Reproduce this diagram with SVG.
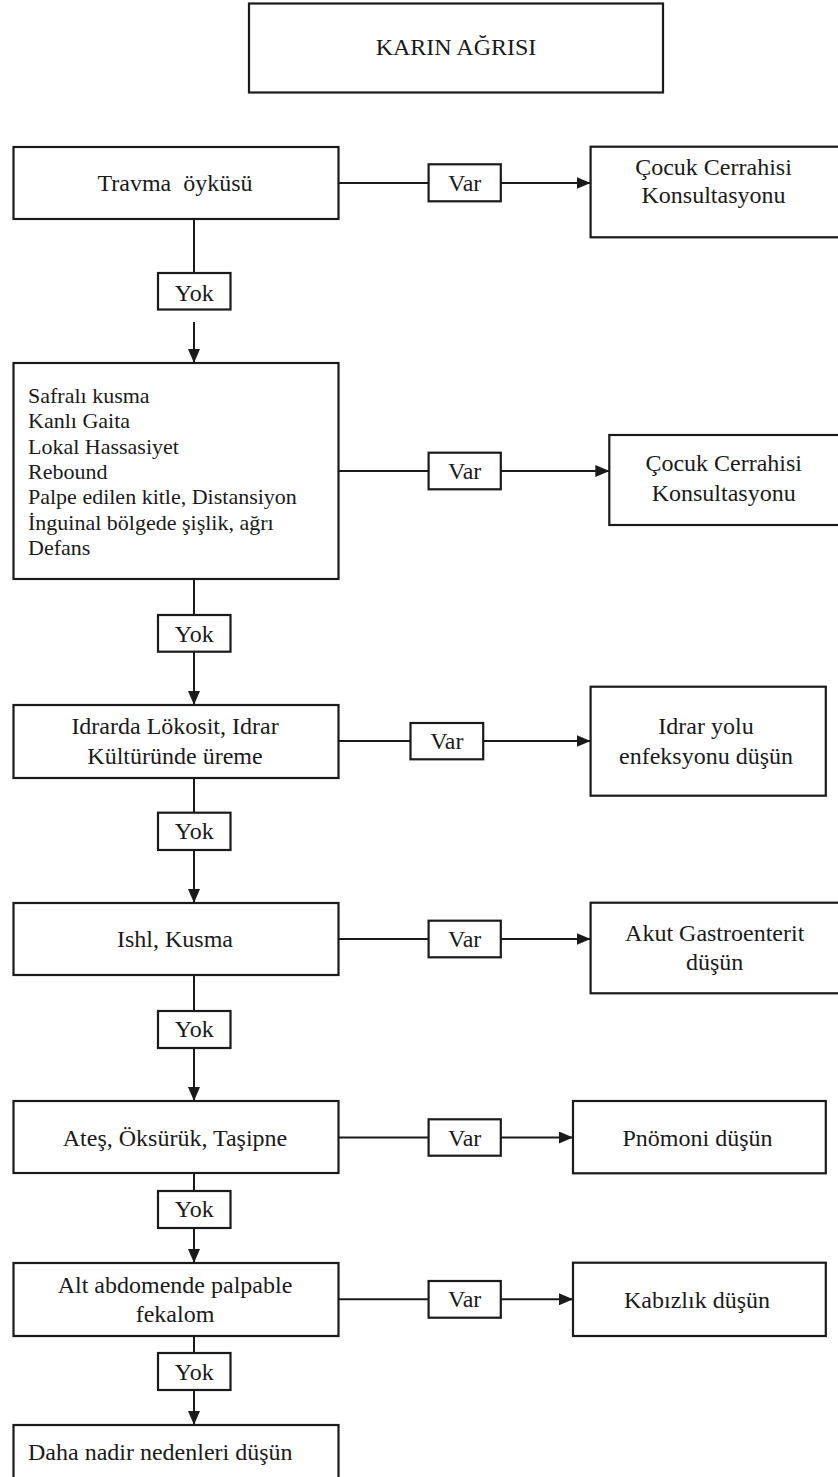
<svg xmlns="http://www.w3.org/2000/svg" width="838" height="1477" viewBox="0 0 838 1477" font-family="'Liberation Serif', 'Times New Roman', Times, 'DejaVu Serif', serif">
<style>
.box{fill:#fff;stroke:#1a1a1a;stroke-width:2.2}
.t{font-family:'Liberation Serif','Times New Roman',Times,'DejaVu Serif',serif;font-size:24px;fill:#1a1a1a;text-anchor:middle;white-space:pre}
.l{font-family:'Liberation Serif','Times New Roman',Times,'DejaVu Serif',serif;font-size:22px;fill:#1a1a1a;white-space:pre}
.c{stroke:#1a1a1a;stroke-width:2;fill:none}
</style>
<defs>
<marker id="ah" markerUnits="userSpaceOnUse" markerWidth="14" markerHeight="12" refX="14" refY="6" orient="auto">
<path d="M0,0 L14,6 L0,12 Z" fill="#1a1a1a"/>
</marker>
</defs>
<rect width="838" height="1477" fill="#fff"/>
<g id="connectors">
<line class="c" x1="338.5" y1="183" x2="428.6" y2="183"/>
<line class="c" x1="500.8" y1="183" x2="590.6" y2="183" marker-end="url(#ah)"/>
<line class="c" x1="194" y1="219" x2="194" y2="273"/>
<line class="c" x1="194" y1="322" x2="194" y2="363" marker-end="url(#ah)"/>
<line class="c" x1="338.5" y1="471" x2="428.6" y2="471"/>
<line class="c" x1="500.8" y1="471" x2="609.3" y2="471" marker-end="url(#ah)"/>
<line class="c" x1="194" y1="579" x2="194" y2="615"/>
<line class="c" x1="194" y1="651.7" x2="194" y2="705" marker-end="url(#ah)"/>
<line class="c" x1="338.5" y1="741" x2="410.5" y2="741"/>
<line class="c" x1="483.2" y1="741" x2="590.6" y2="741" marker-end="url(#ah)"/>
<line class="c" x1="194" y1="778" x2="194" y2="812.7"/>
<line class="c" x1="194" y1="850" x2="194" y2="903" marker-end="url(#ah)"/>
<line class="c" x1="338.5" y1="939" x2="428.6" y2="939"/>
<line class="c" x1="500.8" y1="939" x2="590.6" y2="939" marker-end="url(#ah)"/>
<line class="c" x1="194" y1="975" x2="194" y2="1011"/>
<line class="c" x1="194" y1="1048" x2="194" y2="1101" marker-end="url(#ah)"/>
<line class="c" x1="338.5" y1="1137.5" x2="428.6" y2="1137.5"/>
<line class="c" x1="500.8" y1="1137.5" x2="573" y2="1137.5" marker-end="url(#ah)"/>
<line class="c" x1="194" y1="1173" x2="194" y2="1191"/>
<line class="c" x1="194" y1="1228" x2="194" y2="1263" marker-end="url(#ah)"/>
<line class="c" x1="338.5" y1="1299.3" x2="428.6" y2="1299.3"/>
<line class="c" x1="500.8" y1="1299.3" x2="573" y2="1299.3" marker-end="url(#ah)"/>
<line class="c" x1="194" y1="1336" x2="194" y2="1353"/>
<line class="c" x1="194" y1="1390" x2="194" y2="1425" marker-end="url(#ah)"/>
</g>
<g id="title"><rect class="box" x="249" y="3.5" width="414" height="89"/><text class="t" x="456" y="55">KARIN AĞRISI</text></g>
<g id="travma"><rect class="box" x="13.5" y="147" width="325" height="72"/><text class="t" x="175" y="191">Travma  öyküsü</text></g>
<g id="var1"><rect class="box" x="428.6" y="164.3" width="72.2" height="37"/><text class="t" x="464.7" y="191">Var</text></g>
<g id="cerrahi1"><rect class="box" x="590.6" y="146.7" width="260" height="90.6"/><text class="t" x="713.5" y="175">Çocuk Cerrahisi</text><text class="t" x="713.5" y="203">Konsultasyonu</text></g>
<g id="yok1"><rect class="box" x="158" y="273" width="72.5" height="36.5"/><text class="t" x="194.2" y="301">Yok</text></g>
<g id="bulgular"><rect class="box" x="13.5" y="363" width="325" height="216"/>
<text class="l" x="28" y="403">Safralı kusma</text>
<text class="l" x="28" y="428.3">Kanlı Gaita</text>
<text class="l" x="28" y="453.7">Lokal Hassasiyet</text>
<text class="l" x="28" y="479">Rebound</text>
<text class="l" x="28" y="504.3">Palpe edilen kitle, Distansiyon</text>
<text class="l" x="28" y="529.7">İnguinal bölgede şişlik, ağrı</text>
<text class="l" x="28" y="555">Defans</text></g>
<g id="var2"><rect class="box" x="428.6" y="452.7" width="72.2" height="36.6"/><text class="t" x="464.7" y="479">Var</text></g>
<g id="cerrahi2"><rect class="box" x="609.3" y="435" width="240" height="90"/><text class="t" x="723.7" y="471">Çocuk Cerrahisi</text><text class="t" x="723.7" y="501">Konsultasyonu</text></g>
<g id="yok2"><rect class="box" x="158" y="615" width="72.5" height="36.7"/><text class="t" x="194.2" y="641.5">Yok</text></g>
<g id="idrar"><rect class="box" x="13.5" y="705" width="325" height="73"/><text class="t" x="175" y="734">Idrarda Lökosit, Idrar</text><text class="t" x="175" y="764">Kültüründe üreme</text></g>
<g id="var3"><rect class="box" x="410.5" y="723" width="72.7" height="36.3"/><text class="t" x="446.8" y="749">Var</text></g>
<g id="iye"><rect class="box" x="590.6" y="686.7" width="235.2" height="109"/><text class="t" x="706" y="734">Idrar yolu</text><text class="t" x="706" y="764">enfeksyonu düşün</text></g>
<g id="yok3"><rect class="box" x="158" y="812.7" width="72.5" height="37.3"/><text class="t" x="194.2" y="839">Yok</text></g>
<g id="ishal"><rect class="box" x="13.5" y="903" width="325" height="72"/><text class="t" x="175" y="947">Ishl, Kusma</text></g>
<g id="var4"><rect class="box" x="428.6" y="920.7" width="72.2" height="36.6"/><text class="t" x="464.7" y="947">Var</text></g>
<g id="age"><rect class="box" x="590.6" y="902.7" width="260" height="90.6"/><text class="t" x="714.7" y="941">Akut Gastroenterit</text><text class="t" x="714.7" y="970">düşün</text></g>
<g id="yok4"><rect class="box" x="158" y="1011" width="72.5" height="37"/><text class="t" x="194.2" y="1037">Yok</text></g>
<g id="ates"><rect class="box" x="13.5" y="1101" width="325" height="72"/><text class="t" x="175" y="1146">Ateş, Öksürük, Taşipne</text></g>
<g id="var5"><rect class="box" x="428.6" y="1119.3" width="72.2" height="36.4"/><text class="t" x="464.7" y="1145.5">Var</text></g>
<g id="pnomoni"><rect class="box" x="573" y="1101" width="252.8" height="72.3"/><text class="t" x="697.5" y="1146">Pnömoni düşün</text></g>
<g id="yok5"><rect class="box" x="158" y="1191" width="72.5" height="37"/><text class="t" x="194.2" y="1217">Yok</text></g>
<g id="fekalom"><rect class="box" x="13.5" y="1263" width="325" height="73"/><text class="t" x="175" y="1293">Alt abdomende palpable</text><text class="t" x="175" y="1322">fekalom</text></g>
<g id="var6"><rect class="box" x="428.6" y="1281" width="72.2" height="36.7"/><text class="t" x="464.7" y="1307">Var</text></g>
<g id="kabizlik"><rect class="box" x="573" y="1262.7" width="252.8" height="73.3"/><text class="t" x="697" y="1308">Kabızlık düşün</text></g>
<g id="yok6"><rect class="box" x="158" y="1353" width="72.5" height="37"/><text class="t" x="194.2" y="1380">Yok</text></g>
<g id="nadir"><rect class="box" x="13.5" y="1425" width="325" height="80"/><text class="l" x="28" y="1460" style="font-size:24px">Daha nadir nedenleri düşün</text></g>
</svg>
